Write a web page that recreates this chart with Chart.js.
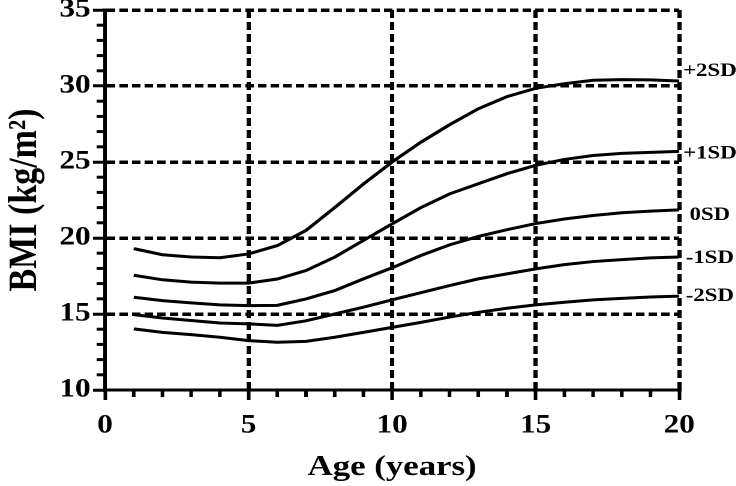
<!DOCTYPE html>
<html>
<head>
<meta charset="utf-8">
<script src="https://cdn.jsdelivr.net/npm/chart.js@4"></script>
<style>
  html, body { margin: 0; padding: 0; background: #fff; overflow: hidden; }
  /* the reference is stretched sideways, so draw narrow and stretch */
  #wrap { width: 613px; height: 486px; transform: scaleX(1.2); transform-origin: 0 0; }
</style>
</head>
<body>
<div id="wrap"><canvas id="bmiChart" width="613" height="486"></canvas></div>
<script>
const ages = [1, 2, 3, 4, 5, 6, 7, 8, 9, 10, 11, 12, 13, 14, 15, 16, 17, 18, 19, 20];
const sdPlus2 = [19.3, 18.9, 18.75, 18.7, 18.95, 19.5, 20.5, 22.0, 23.55, 25.0, 26.3, 27.45, 28.5, 29.3, 29.85, 30.15, 30.38, 30.42, 30.4, 30.33];
const sdPlus1 = [17.55, 17.25, 17.1, 17.03, 17.03, 17.3, 17.86, 18.74, 19.84, 20.93, 22.0, 22.9, 23.57, 24.23, 24.78, 25.17, 25.43, 25.57, 25.63, 25.7];
const sd0 = [16.1, 15.88, 15.73, 15.6, 15.55, 15.57, 15.99, 16.54, 17.31, 18.04, 18.85, 19.55, 20.1, 20.55, 20.95, 21.25, 21.48, 21.66, 21.77, 21.85];
const sdMinus1 = [14.96, 14.74, 14.57, 14.41, 14.35, 14.25, 14.55, 15.0, 15.45, 15.93, 16.4, 16.87, 17.31, 17.64, 17.97, 18.25, 18.45, 18.58, 18.69, 18.75];
const sdMinus2 = [14.02, 13.79, 13.64, 13.47, 13.25, 13.14, 13.2, 13.47, 13.79, 14.12, 14.45, 14.8, 15.11, 15.38, 15.6, 15.77, 15.93, 16.03, 16.12, 16.18];
const seriesNames = ['+2SD', '+1SD', '0SD', '-1SD', '-2SD'];
const xTicks = [0, 5, 10, 15, 20];
const yTicks = [10, 15, 20, 25, 30, 35];

const serif = '"Liberation Serif", "Times New Roman", serif';
const allSeries = [sdPlus2, sdPlus1, sd0, sdMinus1, sdMinus2];
// small vertical nudges for the right-hand labels
const labelNudge = [-10, 2, 5, 1, 0];

function toPoints(vals) {
  return ages.map((a, i) => ({ x: a, y: vals[i] }));
}

function noScalePadding(s) {
  s.paddingTop = 0;
  s.paddingBottom = 0;
  s.paddingLeft = 0;
  s.paddingRight = 0;
}

const extras = {
  id: 'extras',
  afterDraw(chart) {
    const ctx = chart.ctx;
    const xs = chart.scales.x;
    const ys = chart.scales.y;
    const area = chart.chartArea;
    ctx.save();
    ctx.strokeStyle = '#000';
    ctx.lineWidth = 3;
    // minor ticks every unit
    for (let v = ys.min + 1; v < ys.max; v++) {
      if (v % 5 === 0) continue;
      const py = ys.getPixelForValue(v);
      ctx.beginPath();
      ctx.moveTo(area.left, py);
      ctx.lineTo(area.left - 7, py);
      ctx.stroke();
    }
    for (let v = xs.min + 1; v < xs.max; v++) {
      if (v % 5 === 0) continue;
      const px = xs.getPixelForValue(v);
      ctx.beginPath();
      ctx.moveTo(px, area.bottom);
      ctx.lineTo(px, area.bottom + 7);
      ctx.stroke();
    }
    // series labels at the right end
    ctx.fillStyle = '#000';
    ctx.font = 'bold 19px ' + serif;
    ctx.textAlign = 'center';
    ctx.textBaseline = 'middle';
    chart.data.datasets.forEach((ds, i) => {
      const last = ds.data[ds.data.length - 1];
      const px = xs.getPixelForValue(last.x);
      const py = ys.getPixelForValue(last.y);
      ctx.fillText(ds.label, px + 25.5, py + labelNudge[i]);
    });
    ctx.restore();
  }
};

const tickFont = { family: serif, weight: 'bold', size: 26 };

new Chart(document.getElementById('bmiChart'), {
  type: 'line',
  data: {
    datasets: allSeries.map((vals, i) => ({
      label: seriesNames[i],
      data: toPoints(vals),
      borderColor: '#000',
      borderWidth: 3,
      pointRadius: 0,
      tension: 0,
      fill: false
    }))
  },
  options: {
    responsive: false,
    animation: false,
    devicePixelRatio: 2,
    layout: { autoPadding: false, padding: { top: 10, right: 47, left: 0, bottom: 0 } },
    plugins: { legend: { display: false }, tooltip: { enabled: false } },
    scales: {
      x: {
        type: 'linear',
        min: 0,
        max: 20,
        afterFit: (s) => { s.height = 96; noScalePadding(s); },
        afterBuildTicks: (s) => { s.ticks = xTicks.map(v => ({ value: v })); },
        ticks: { font: tickFont, color: '#000', padding: 10, maxRotation: 0 },
        grid: {
          color: (c) => (c.tick && c.tick.value === 0 ? 'rgba(0,0,0,0)' : '#000'),
          lineWidth: 3.5,
          tickLength: 10,
          tickColor: '#000',
          tickWidth: 3
        },
        border: { display: true, color: '#000', width: 3, dash: [8, 4] },
        title: {
          display: true,
          text: 'Age (years)',
          color: '#000',
          font: { family: serif, weight: 'bold', size: 29 },
          padding: { top: 0, bottom: 1 }
        }
      },
      y: {
        min: 10,
        max: 35,
        afterFit: (s) => { s.width = 87.5; noScalePadding(s); },
        afterBuildTicks: (s) => { s.ticks = yTicks.map(v => ({ value: v })); },
        ticks: { font: tickFont, color: '#000', padding: 2 },
        grid: {
          color: (c) => (c.tick && c.tick.value === 10 ? 'rgba(0,0,0,0)' : '#000'),
          lineWidth: 3.5,
          tickLength: 10,
          tickColor: '#000',
          tickWidth: 3
        },
        border: { display: true, color: '#000', width: 3, dash: [7, 3.5] },
        title: {
          display: true,
          text: 'BMI (kg/m²)',
          color: '#000',
          font: { family: serif, weight: 'bold', size: 34 },
          padding: { top: 1, bottom: 0 }
        }
      }
    }
  },
  plugins: [extras]
});
</script>
</body>
</html>
